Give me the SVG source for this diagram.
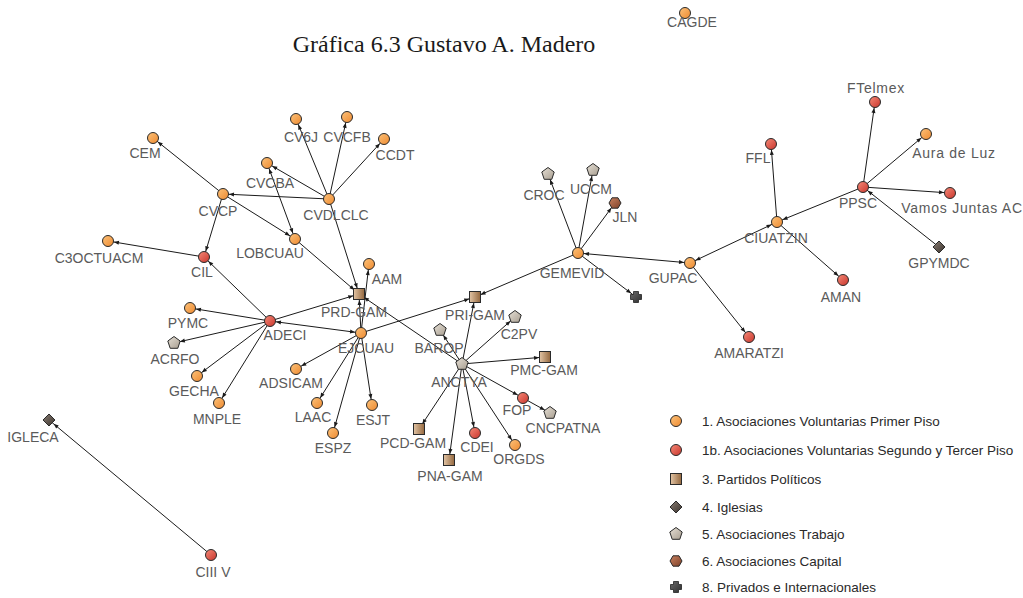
<svg xmlns="http://www.w3.org/2000/svg" xmlns:xlink="http://www.w3.org/1999/xlink" width="1023" height="598" viewBox="0 0 1023 598">
<style>
.lbl{font-family:"Liberation Sans",Arial,sans-serif;font-size:14px;fill:#5a5a5a;text-anchor:middle}
.mx{letter-spacing:0.75px}
.leg{font-family:"Liberation Sans",Arial,sans-serif;font-size:13.5px;fill:#2a2a2a}
.title{font-family:"Liberation Serif","Times New Roman",serif;font-size:24px;fill:#1a1a1a;text-anchor:middle}
.e{stroke:#1a1a1a;stroke-width:1;fill:none;marker-end:url(#arr)}
.b{marker-start:url(#arr)}
.sh{stroke:#2a2a2a;stroke-width:1}
</style>
<defs>
<linearGradient id="gO" x1="0" y1="0" x2="1" y2="1"><stop offset="0" stop-color="#fcc27a"/><stop offset="1" stop-color="#ee8a30"/></linearGradient>
<linearGradient id="gR" x1="0" y1="0" x2="1" y2="1"><stop offset="0" stop-color="#f58a78"/><stop offset="1" stop-color="#c9352c"/></linearGradient>
<linearGradient id="gS" x1="0" y1="0" x2="1" y2="0"><stop offset="0" stop-color="#e2c4a4"/><stop offset="1" stop-color="#94683f"/></linearGradient>
<linearGradient id="gP" x1="0" y1="0" x2="1" y2="1"><stop offset="0" stop-color="#e6e0d6"/><stop offset="1" stop-color="#a89e90"/></linearGradient>
<linearGradient id="gD" x1="0" y1="0" x2="1" y2="1"><stop offset="0" stop-color="#8a7e74"/><stop offset="1" stop-color="#3a322c"/></linearGradient>
<linearGradient id="gH" x1="0" y1="0" x2="1" y2="1"><stop offset="0" stop-color="#c98260"/><stop offset="1" stop-color="#7e4028"/></linearGradient>
<linearGradient id="gC" x1="0" y1="0" x2="1" y2="1"><stop offset="0" stop-color="#6a6a6a"/><stop offset="1" stop-color="#2e2e2e"/></linearGradient>
<marker id="arr" viewBox="0 0 10 8" markerWidth="5" markerHeight="4" refX="22" refY="4" orient="auto-start-reverse" markerUnits="userSpaceOnUse" overflow="visible"><path d="M0,0 L10,4 L0,8 z" fill="#1a1a1a"/></marker>
<circle id="o" r="5.5" fill="url(#gO)" class="sh"/>
<circle id="r" r="5.5" fill="url(#gR)" class="sh"/>
<rect id="s" x="-5.5" y="-5.5" width="11" height="11" fill="url(#gS)" class="sh"/>
<polygon id="p" points="0,-6.5 6.2,-2 3.8,5.3 -3.8,5.3 -6.2,-2" fill="url(#gP)" class="sh"/>
<polygon id="d" points="0,-6 6,0 0,6 -6,0" fill="url(#gD)" class="sh"/>
<polygon id="h" points="6,0 3,5.2 -3,5.2 -6,0 -3,-5.2 3,-5.2" fill="url(#gH)" class="sh"/>
<path id="x" d="M-2.5,-5.5 h5 v3 h3 v5 h-3 v3 h-5 v-3 h-3 v-5 h3 z" fill="url(#gC)" stroke="#222" stroke-width="0.8"/>
</defs>
<rect width="1023" height="598" fill="#fff"/>
<text class="title" x="444" y="52">Gráfica 6.3 Gustavo A. Madero</text>
<g id="edges">
<line class="e" x1="223" y1="194" x2="153" y2="138"/>
<line class="e" x1="329" y1="199" x2="223" y2="194"/>
<line class="e" x1="223" y1="194" x2="295" y2="239"/>
<line class="e" x1="223" y1="194" x2="204" y2="257"/>
<line class="e" x1="329" y1="199" x2="267" y2="163"/>
<line class="e" x1="329" y1="199" x2="296" y2="119"/>
<line class="e" x1="329" y1="199" x2="347" y2="117"/>
<line class="e" x1="329" y1="199" x2="384" y2="139"/>
<line class="e" x1="329" y1="199" x2="359" y2="294"/>
<line class="e b" x1="267" y1="163" x2="295" y2="239"/>
<line class="e" x1="295" y1="239" x2="359" y2="294"/>
<line class="e" x1="204" y1="257" x2="108" y2="241"/>
<line class="e" x1="270" y1="321" x2="204" y2="257"/>
<line class="e" x1="270" y1="321" x2="190" y2="308"/>
<line class="e" x1="270" y1="321" x2="174" y2="343"/>
<line class="e" x1="270" y1="321" x2="197" y2="376"/>
<line class="e" x1="270" y1="321" x2="219" y2="403"/>
<line class="e" x1="270" y1="321" x2="359" y2="294"/>
<line class="e b" x1="361" y1="333" x2="270" y2="321"/>
<line class="e" x1="361" y1="333" x2="359" y2="294"/>
<line class="e" x1="361" y1="333" x2="369" y2="264"/>
<line class="e" x1="361" y1="333" x2="475" y2="297"/>
<line class="e" x1="361" y1="333" x2="296" y2="369"/>
<line class="e" x1="361" y1="333" x2="317" y2="403"/>
<line class="e" x1="361" y1="333" x2="333" y2="433"/>
<line class="e" x1="361" y1="333" x2="372" y2="405"/>
<line class="e" x1="462" y1="364" x2="359" y2="294"/>
<line class="e" x1="578" y1="253" x2="475" y2="297"/>
<line class="e" x1="462" y1="364" x2="475" y2="297"/>
<line class="e" x1="462" y1="364" x2="515" y2="317"/>
<line class="e" x1="462" y1="364" x2="440" y2="330"/>
<line class="e" x1="462" y1="364" x2="545" y2="357"/>
<line class="e" x1="462" y1="364" x2="523" y2="398"/>
<line class="e" x1="523" y1="398" x2="550" y2="413"/>
<line class="e" x1="462" y1="364" x2="419" y2="429"/>
<line class="e" x1="462" y1="364" x2="449" y2="460"/>
<line class="e" x1="462" y1="364" x2="475" y2="433"/>
<line class="e" x1="462" y1="364" x2="515" y2="445"/>
<line class="e" x1="578" y1="253" x2="548" y2="174"/>
<line class="e" x1="578" y1="253" x2="593" y2="170"/>
<line class="e" x1="578" y1="253" x2="615" y2="203"/>
<line class="e" x1="578" y1="253" x2="636" y2="297"/>
<line class="e b" x1="690" y1="263" x2="578" y2="253"/>
<line class="e b" x1="777" y1="222" x2="690" y2="263"/>
<line class="e" x1="690" y1="263" x2="749" y2="337"/>
<line class="e" x1="777" y1="222" x2="771" y2="144"/>
<line class="e" x1="777" y1="222" x2="843" y2="280"/>
<line class="e" x1="863" y1="187" x2="777" y2="222"/>
<line class="e" x1="863" y1="187" x2="875" y2="102"/>
<line class="e" x1="863" y1="187" x2="926" y2="134"/>
<line class="e" x1="863" y1="187" x2="950" y2="193"/>
<line class="e" x1="939" y1="247" x2="863" y2="187"/>
<line class="e" x1="211" y1="555" x2="49" y2="420"/>
</g>
<g id="n-CAGDE"><use href="#o" x="685" y="13"/><text class="lbl" x="692" y="27" font-size="13">CAGDE</text></g>
<g id="n-CEM"><use href="#o" x="153" y="138"/><text class="lbl" x="145" y="158">CEM</text></g>
<g id="n-CVCP"><use href="#o" x="223" y="194"/><text class="lbl" x="218" y="216">CVCP</text></g>
<g id="n-CVCBA"><use href="#o" x="267" y="163"/><text class="lbl" x="270" y="188">CVCBA</text></g>
<g id="n-CVDLCLC"><use href="#o" x="329" y="199"/><text class="lbl" x="336" y="220">CVDLCLC</text></g>
<g id="n-LOBCUAU"><use href="#o" x="295" y="239"/><text class="lbl" x="270" y="258">LOBCUAU</text></g>
<g id="n-C3OCTUACM"><use href="#o" x="108" y="241"/><text class="lbl" x="99" y="263">C3OCTUACM</text></g>
<g id="n-CV6J"><use href="#o" x="296" y="119"/><text class="lbl" x="301" y="142">CV6J</text></g>
<g id="n-CVCFB"><use href="#o" x="347" y="117"/><text class="lbl" x="347" y="142">CVCFB</text></g>
<g id="n-CCDT"><use href="#o" x="384" y="139"/><text class="lbl" x="395" y="160">CCDT</text></g>
<g id="n-CIL"><use href="#r" x="204" y="257"/><text class="lbl" x="202" y="277">CIL</text></g>
<g id="n-PRD-GAM"><use href="#s" x="359" y="294"/><text class="lbl" x="354" y="317">PRD-GAM</text></g>
<g id="n-AAM"><use href="#o" x="369" y="264"/><text class="lbl" x="387" y="284">AAM</text></g>
<g id="n-ADECI"><use href="#r" x="270" y="321"/><text class="lbl" x="285" y="340">ADECI</text></g>
<g id="n-EJCUAU"><use href="#o" x="361" y="333"/><text class="lbl" x="366" y="353">EJCUAU</text></g>
<g id="n-PYMC"><use href="#o" x="190" y="308"/><text class="lbl" x="188" y="328">PYMC</text></g>
<g id="n-ACRFO"><use href="#p" x="174" y="343"/><text class="lbl" x="175" y="364">ACRFO</text></g>
<g id="n-GECHA"><use href="#o" x="197" y="376"/><text class="lbl" x="194" y="396">GECHA</text></g>
<g id="n-MNPLE"><use href="#o" x="219" y="403"/><text class="lbl" x="217" y="424">MNPLE</text></g>
<g id="n-ADSICAM"><use href="#o" x="296" y="369"/><text class="lbl" x="291" y="388">ADSICAM</text></g>
<g id="n-LAAC"><use href="#o" x="317" y="403"/><text class="lbl" x="313" y="422">LAAC</text></g>
<g id="n-ESJT"><use href="#o" x="372" y="405"/><text class="lbl" x="373" y="425">ESJT</text></g>
<g id="n-ESPZ"><use href="#o" x="333" y="433"/><text class="lbl" x="333" y="453">ESPZ</text></g>
<g id="n-PCD-GAM"><use href="#s" x="419" y="429"/><text class="lbl" x="413" y="448">PCD-GAM</text></g>
<g id="n-PRI-GAM"><use href="#s" x="475" y="297"/><text class="lbl" x="475" y="320">PRI-GAM</text></g>
<g id="n-C2PV"><use href="#p" x="515" y="317"/><text class="lbl" x="519" y="339">C2PV</text></g>
<g id="n-BAROP"><use href="#p" x="440" y="330"/><text class="lbl" x="439" y="353">BAROP</text></g>
<g id="n-ANCTYA"><use href="#p" x="462" y="364"/><text class="lbl" x="459" y="387">ANCTYA</text></g>
<g id="n-PMC-GAM"><use href="#s" x="545" y="357"/><text class="lbl" x="544" y="375">PMC-GAM</text></g>
<g id="n-FOP"><use href="#r" x="523" y="398"/><text class="lbl" x="517" y="415">FOP</text></g>
<g id="n-CNCPATNA"><use href="#p" x="550" y="413"/><text class="lbl" x="563" y="433">CNCPATNA</text></g>
<g id="n-CDEI"><use href="#r" x="475" y="433"/><text class="lbl" x="477" y="452">CDEI</text></g>
<g id="n-ORGDS"><use href="#o" x="515" y="445"/><text class="lbl" x="519" y="464">ORGDS</text></g>
<g id="n-PNA-GAM"><use href="#s" x="449" y="460"/><text class="lbl" x="450" y="481">PNA-GAM</text></g>
<g id="n-CROC"><use href="#p" x="548" y="174"/><text class="lbl" x="544" y="200">CROC</text></g>
<g id="n-UCCM"><use href="#p" x="593" y="170"/><text class="lbl" x="591" y="194">UCCM</text></g>
<g id="n-JLN"><use href="#h" x="615" y="203"/><text class="lbl" x="625" y="222">JLN</text></g>
<g id="n-GEMEVID"><use href="#o" x="578" y="253"/><text class="lbl" x="572" y="278">GEMEVID</text></g>
<g id="n-PRIV"><use href="#x" x="636" y="297"/></g>
<g id="n-GUPAC"><use href="#o" x="690" y="263"/><text class="lbl" x="673" y="283">GUPAC</text></g>
<g id="n-AMARATZI"><use href="#r" x="749" y="337"/><text class="lbl" x="749" y="358">AMARATZI</text></g>
<g id="n-CIUATZIN"><use href="#o" x="777" y="222"/><text class="lbl" x="776" y="243">CIUATZIN</text></g>
<g id="n-FFL"><use href="#r" x="771" y="144"/><text class="lbl" x="758" y="163">FFL</text></g>
<g id="n-FTelmex"><use href="#r" x="875" y="102"/><text class="lbl mx" x="876" y="93">FTelmex</text></g>
<g id="n-AuraDeLuz"><use href="#o" x="926" y="134"/><text class="lbl mx" x="954" y="158">Aura de Luz</text></g>
<g id="n-PPSC"><use href="#r" x="863" y="187"/><text class="lbl" x="858" y="208">PPSC</text></g>
<g id="n-VamosJuntasAC"><use href="#r" x="950" y="193"/><text class="lbl mx" x="962" y="213">Vamos Juntas AC</text></g>
<g id="n-GPYMDC"><use href="#d" x="939" y="247"/><text class="lbl" x="939" y="268">GPYMDC</text></g>
<g id="n-AMAN"><use href="#r" x="843" y="280"/><text class="lbl" x="841" y="302">AMAN</text></g>
<g id="n-IGLECA"><use href="#d" x="49" y="420"/><text class="lbl" x="33" y="442">IGLECA</text></g>
<g id="n-CIIIV"><use href="#r" x="211" y="555"/><text class="lbl" x="213" y="577">CIII V</text></g>
<g id="legend">
<use href="#o" x="676" y="421"/><text class="leg" x="702" y="426">1. Asociaciones Voluntarias Primer Piso</text>
<use href="#r" x="676" y="450"/><text class="leg" x="702" y="455">1b. Asociaciones Voluntarias Segundo y Tercer Piso</text>
<use href="#s" x="676" y="479"/><text class="leg" x="702" y="484">3. Partidos Políticos</text>
<use href="#d" x="676" y="507"/><text class="leg" x="702" y="512">4. Iglesias</text>
<use href="#p" x="676" y="534"/><text class="leg" x="702" y="539">5. Asociaciones Trabajo</text>
<use href="#h" x="676" y="561"/><text class="leg" x="702" y="566">6. Asociaciones Capital</text>
<use href="#x" x="676" y="587"/><text class="leg" x="702" y="592">8. Privados e Internacionales</text>
</g>
</svg>
